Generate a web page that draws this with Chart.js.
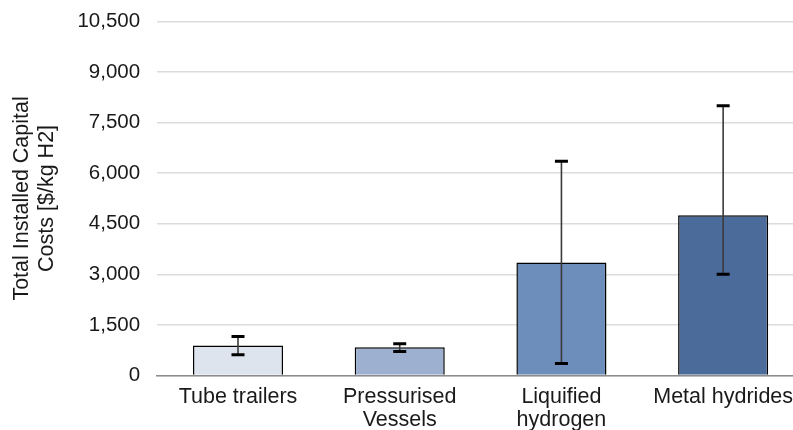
<!DOCTYPE html>
<html>
<head>
<meta charset="utf-8">
<script src="https://cdn.jsdelivr.net/npm/chart.js@4/dist/chart.umd.min.js"></script>
<style>
  html, body { margin: 0; padding: 0; background: #fff; overflow: hidden; }
  #wrap { width: 812px; height: 430px; overflow: hidden; }
  #costChart { display: block; margin-top: -8px; }
</style>
</head>
<body>
<div id="wrap"><canvas id="costChart" width="812" height="450"></canvas></div>
<script>
// datos del grafico
const categorias = [['Tube trailers'], ['Pressurised', 'Vessels'], ['Liquified', 'hydrogen'], ['Metal hydrides']];
const costos = [890, 840, 3350, 4750];
const errorMin = [620, 710, 360, 3000];
const errorMax = [1160, 940, 6350, 8000];
const colores = ['#dde4ee', '#9db0d0', '#6d8dbb', '#4b6b9b'];

// barras de error dibujadas con la escala del eje y
const barrasError = {
    id: 'barrasError',
    afterDatasetsDraw(chart) {
        const ctx = chart.ctx;
        const y = chart.scales.y;
        const meta = chart.getDatasetMeta(0);
        meta.data.forEach((bar, i) => {
            const x = bar.x;
            const yTop = y.getPixelForValue(errorMax[i]);
            const yBot = y.getPixelForValue(errorMin[i]);
            ctx.save();
            ctx.strokeStyle = '#3a3a3a';
            ctx.lineWidth = 1.6;
            ctx.beginPath();
            ctx.moveTo(x, yTop);
            ctx.lineTo(x, yBot);
            ctx.stroke();
            ctx.strokeStyle = '#000';
            ctx.lineWidth = 3;
            ctx.beginPath();
            ctx.moveTo(x - 6.5, yTop);
            ctx.lineTo(x + 6.5, yTop);
            ctx.moveTo(x - 6.5, yBot);
            ctx.lineTo(x + 6.5, yBot);
            ctx.stroke();
            ctx.restore();
        });
    }
};

const config = {
    type: 'bar',
    data: {
        labels: categorias,
        datasets: [{
            data: costos,
            backgroundColor: colores,
            borderColor: '#000',
            borderWidth: 1.5,
            categoryPercentage: 1,
            barPercentage: 0.557
        }]
    },
    options: {
        responsive: false,
        animation: false,
        layout: { padding: { top: 1, right: 8, left: 10, bottom: 0 } },
        plugins: {
            legend: { display: false },
            tooltip: { enabled: false }
        },
        scales: {
            x: {
                grid: { display: false, drawTicks: false },
                border: { color: '#8c8c8c', width: 1.5 },
                ticks: {
                    color: '#1a1a1a',
                    font: { family: 'Liberation Sans', size: 21.5, lineHeight: 1.08 },
                    maxRotation: 0,
                    autoSkip: false,
                    padding: 10
                }
            },
            y: {
                min: 0,
                max: 10500,
                grid: { color: '#dcdcdc', lineWidth: 1.5, drawTicks: false },
                border: { display: false },
                ticks: {
                    stepSize: 1500,
                    color: '#1a1a1a',
                    font: { family: 'Liberation Sans', size: 20.5 },
                    padding: 17,
                    callback: v => v.toLocaleString('en-US')
                },
                title: {
                    display: true,
                    text: ['Total Installed Capital', 'Costs [$/kg H2]'],
                    color: '#1a1a1a',
                    font: { family: 'Liberation Sans', size: 21.5, lineHeight: 1.15 },
                    padding: { top: 0, bottom: 1 }
                }
            }
        }
    },
    plugins: [barrasError]
};

const ctx = document.getElementById('costChart').getContext('2d');
new Chart(ctx, config);
</script>
</body>
</html>
